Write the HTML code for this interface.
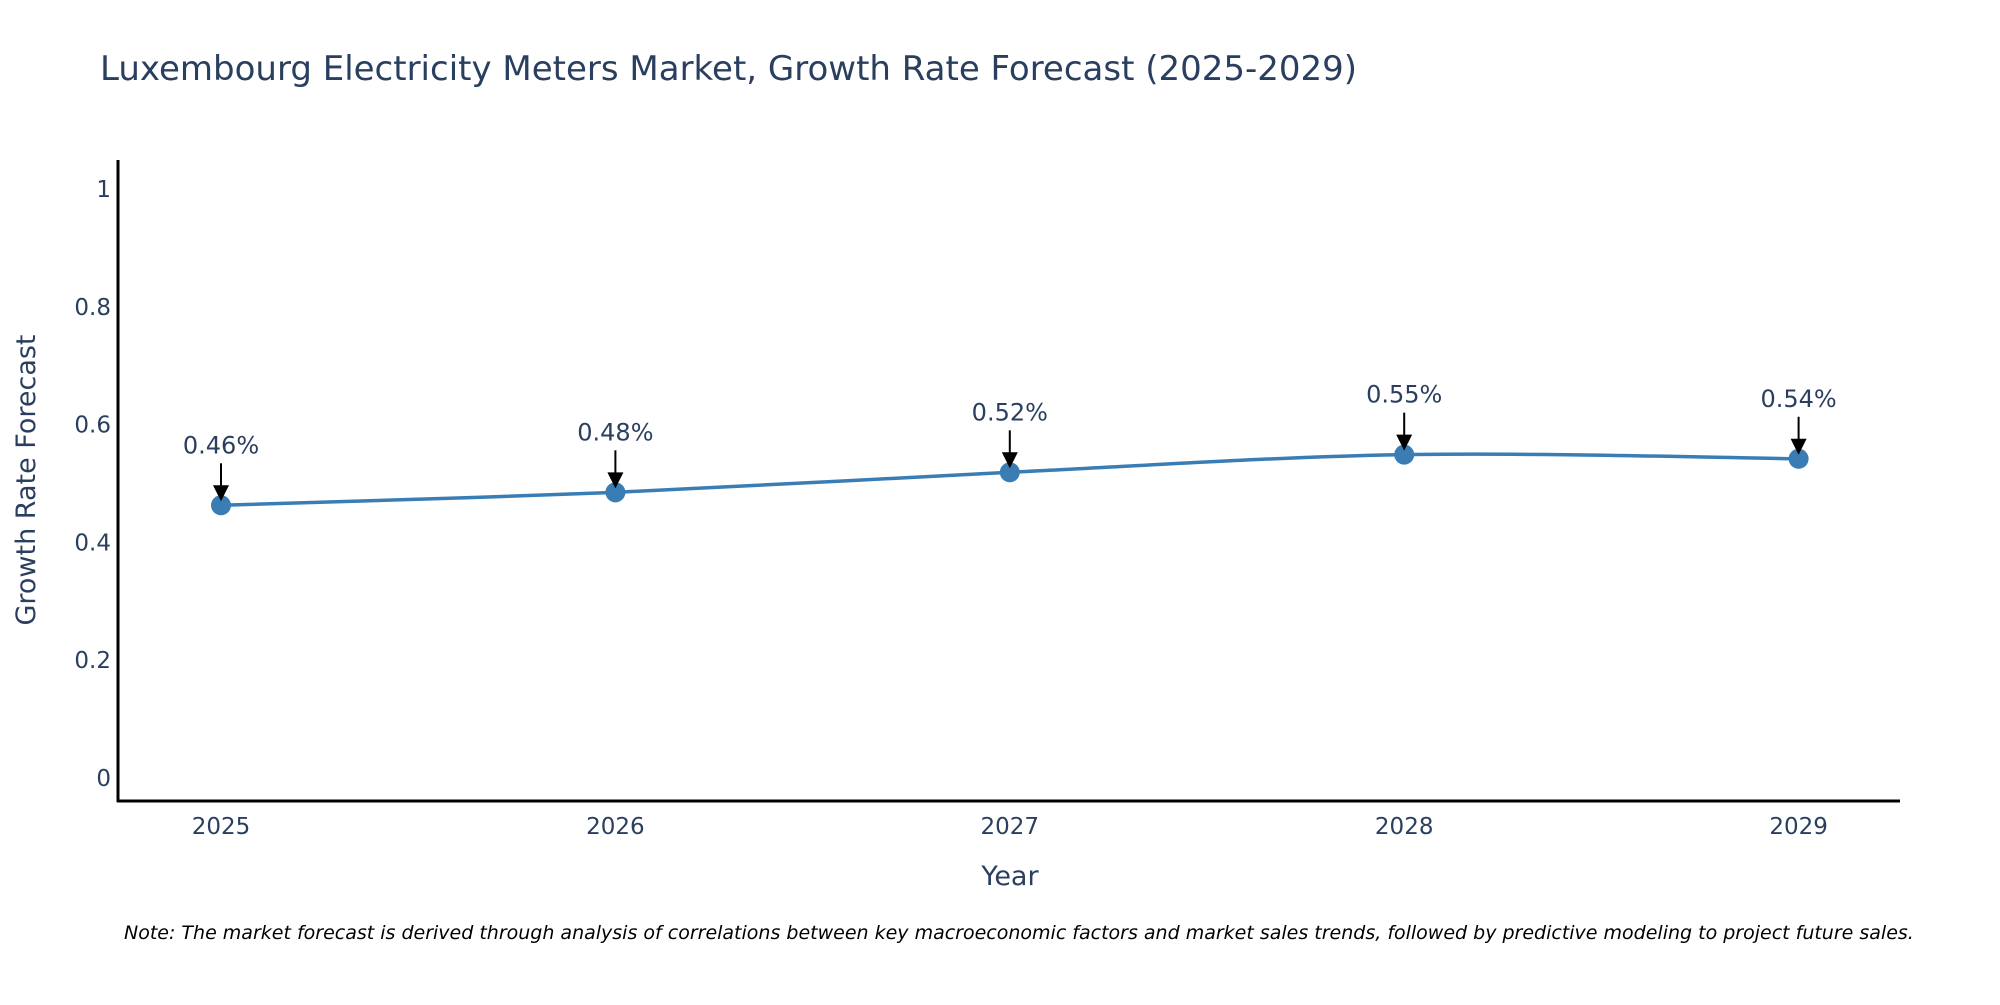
<!DOCTYPE html>
<html><head><meta charset="utf-8"><style>
body{margin:0;background:#fff;overflow:hidden;}
svg text{font-family:"DejaVu Sans","Liberation Sans",sans-serif;}
</style></head><body>
<svg id="chart" width="2000" height="1000" xmlns="http://www.w3.org/2000/svg">
<text x="100" y="80" font-size="34" fill="#2a3f5f">Luxembourg Electricity Meters Market, Growth Rate Forecast (2025-2029)</text>
<g id="yticks"></g>
<g id="xticks"></g>
<path id="line" fill="none" stroke="#3a7db5" stroke-width="3.5"/>
<g id="points"></g>
<g id="annots"></g>
<line x1="118" y1="160" x2="118" y2="802" stroke="#000" stroke-width="3"/>
<line x1="117" y1="801" x2="1900" y2="801" stroke="#000" stroke-width="3"/>
<text transform="translate(35,480) rotate(-90)" text-anchor="middle" font-size="27" fill="#2a3f5f">Growth Rate Forecast</text>
<text x="1010" y="885" text-anchor="middle" font-size="27" fill="#2a3f5f">Year</text>
<text x="124" y="939" font-size="19" font-style="italic" fill="#000">Note: The market forecast is derived through analysis of correlations between key macroeconomic factors and market sales trends, followed by predictive modeling to project future sales.</text>
</svg>
<script>
const years = ["2025","2026","2027","2028","2029"];
const values = [0.463, 0.485, 0.519, 0.549, 0.542];
const labels = ["0.46%","0.48%","0.52%","0.55%","0.54%"];
const yTickVals = [0,0.2,0.4,0.6,0.8,1];
const yTickLabels = ["0","0.2","0.4","0.6","0.8","1"];

const NS="http://www.w3.org/2000/svg";
function xs(i){return 221 + i*394.4;}
function ys(v){return 778 - v*589;}
function mk(tag,attrs,parent){const e=document.createElementNS(NS,tag);for(const k in attrs)e.setAttribute(k,attrs[k]);parent.appendChild(e);return e;}

const yt=document.getElementById('yticks');
yTickVals.forEach((v,i)=>{
  const t=mk('text',{x:111,y:ys(v)+8,'text-anchor':'end','font-size':23,fill:'#2a3f5f'},yt);
  
  
  t.textContent=yTickLabels[i];
});
const xt=document.getElementById('xticks');
years.forEach((y,i)=>{
  const t=mk('text',{x:xs(i),y:834,'text-anchor':'middle','font-size':23,fill:'#2a3f5f'},xt);
  
  
  t.textContent=y;
});

const P=values.map((v,i)=>[xs(i),ys(v)]);
let d='M'+P[0][0]+','+P[0][1];
const s=0.5/3*2;
for(let i=0;i<P.length-1;i++){
  const p0=P[Math.max(i-1,0)],p1=P[i],p2=P[i+1],p3=P[Math.min(i+2,P.length-1)];
  const c1=[p1[0]+(p2[0]-p0[0])*s/2,p1[1]+(p2[1]-p0[1])*s/2];
  const c2=[p2[0]-(p3[0]-p1[0])*s/2,p2[1]-(p3[1]-p1[1])*s/2];
  d+=' C'+c1+' '+c2+' '+p2;
}
document.getElementById('line').setAttribute('d',d);

const pts=document.getElementById('points'), an=document.getElementById('annots');
P.forEach((p,i)=>{
  const c=mk('circle',{cx:p[0],cy:p[1],r:10,fill:'#3a7db5'},pts);
  
  
  const l=mk('line',{x1:p[0],y1:p[1]-42,x2:p[0],y2:p[1]-14,stroke:'#000','stroke-width':2},an);
  
  
  const h=mk('polygon',{points:(p[0]-8)+','+(p[1]-20)+' '+(p[0]+8)+','+(p[1]-20)+' '+p[0]+','+(p[1]-4),fill:'#000'},an);
  
  
  const t=mk('text',{x:p[0],y:p[1]-52,'text-anchor':'middle','font-size':24,fill:'#2a3f5f'},an);
  
  
  t.textContent=labels[i];
});
</script>
</body></html>
